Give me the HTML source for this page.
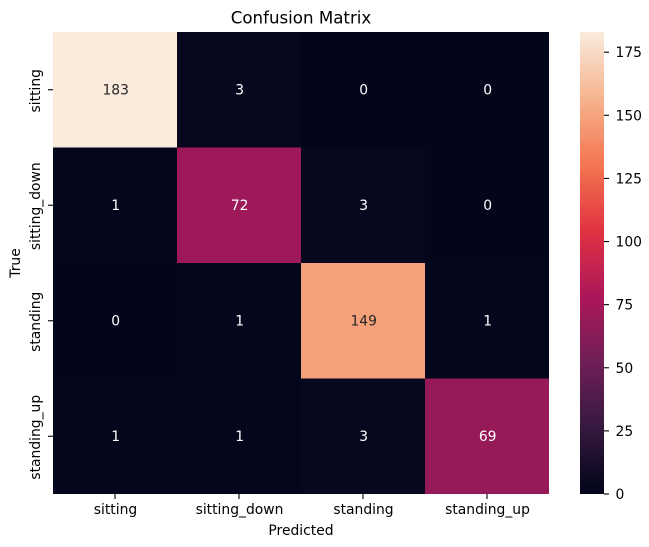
<!DOCTYPE html>
<html>
<head>
<meta charset="utf-8">
<title>Confusion Matrix</title>
<style>
html,body{margin:0;padding:0;background:#fff;}
svg{display:block;}
text{font-family:"DejaVu Sans","Liberation Sans",sans-serif;font-size:13.89px;fill:#000;}
</style>
</head>
<body>
<svg id="chart" width="649" height="547" viewBox="0 0 649 547" xmlns="http://www.w3.org/2000/svg">
  <defs>
    <linearGradient id="rocket" x1="0" y1="1" x2="0" y2="0"></linearGradient>
  </defs>
  <text x="301" y="23.5" text-anchor="middle" style="font-size:16.67px">Confusion Matrix</text>
  <text x="301" y="535" text-anchor="middle">Predicted</text>
  <text transform="translate(20,263) rotate(-90)" text-anchor="middle">True</text>
  <g id="cells"></g>
  <g id="annots"></g>
  <g id="xticks"></g>
  <g id="yticks"></g>
  <rect x="580" y="32" width="24" height="462" fill="url(#rocket)"></rect>
  <g id="cticks"></g>
</svg>
<script>
var categories = ['sitting', 'sitting_down', 'standing', 'standing_up'];
var row0 = [183, 3, 0, 0];
var row1 = [1, 72, 3, 0];
var row2 = [0, 1, 149, 1];
var row3 = [1, 1, 3, 69];
var matrix = [row0, row1, row2, row3];
var colorbarTicks = [0, 25, 50, 75, 100, 125, 150, 175];

var NS = 'http://www.w3.org/2000/svg';
var plotLeft = 53, plotRight = 549, plotTop = 32, plotBottom = 494;
var barLeft = 580, barRight = 604;
var rocketStops = [
  [0, 3, 5, 26], [0.0157, 7, 7, 29], [0.143, 53, 25, 62], [0.286, 112, 31, 87],
  [0.429, 173, 23, 89], [0.571, 225, 51, 66], [0.714, 243, 118, 81],
  [0.857, 246, 180, 143], [1, 250, 235, 221]
];

function all() { return [].concat.apply([], matrix); }
var vmin = Math.min.apply(null, all());
var vmax = Math.max.apply(null, all());

function xBand(i) { return plotLeft + (plotRight - plotLeft) * i / categories.length; }
function yBand(i) { return plotTop + (plotBottom - plotTop) * i / matrix.length; }
function norm(v) { return vmax === vmin ? 0 : (v - vmin) / (vmax - vmin); }
function cbY(v) { return plotBottom - norm(v) * (plotBottom - plotTop); }
function rocketRGB(t) {
  t = Math.max(0, Math.min(1, t));
  for (var i = 1; i < rocketStops.length; i++) {
    if (t <= rocketStops[i][0]) {
      var a = rocketStops[i - 1], b = rocketStops[i];
      var f = (t - a[0]) / (b[0] - a[0]);
      return [a[1] + (b[1] - a[1]) * f, a[2] + (b[2] - a[2]) * f, a[3] + (b[3] - a[3]) * f];
    }
  }
  return rocketStops[rocketStops.length - 1].slice(1);
}
function css(c) { return 'rgb(' + Math.round(c[0]) + ',' + Math.round(c[1]) + ',' + Math.round(c[2]) + ')'; }
function lum(c) {
  var l = c.map(function (v) {
    v = v / 255;
    return v <= 0.03928 ? v / 12.92 : Math.pow((v + 0.055) / 1.055, 2.4);
  });
  return 0.2126 * l[0] + 0.7152 * l[1] + 0.0722 * l[2];
}
function make(tag, parentId) {
  var el = document.createElementNS(NS, tag);
  document.getElementById(parentId).appendChild(el);
  return el;
}

rocketStops.forEach(function (s) {
  var st = make('stop', 'rocket');
  st.setAttribute('offset', s[0]);
  st.setAttribute('stop-color', css(s.slice(1)));
});

matrix.forEach(function (row, r) {
  row.forEach(function (v, c) {
    var col = rocketRGB(norm(v));
    var x0 = xBand(c), x1 = xBand(c + 1), y0 = yBand(r), y1 = yBand(r + 1);
    var rect = make('rect', 'cells');
    
    
    rect.setAttribute('x', x0);
    rect.setAttribute('y', y0);
    rect.setAttribute('width', x1 - x0);
    rect.setAttribute('height', y1 - y0);
    rect.setAttribute('fill', css(col));
    rect.setAttribute('shape-rendering', 'crispEdges');
    var t = make('text', 'annots');
    
    
    t.setAttribute('x', (x0 + x1) / 2 + 0.7);
    t.setAttribute('y', (y0 + y1) / 2 + 4.6);
    t.setAttribute('text-anchor', 'middle');
    t.style.fill = lum(col) > 0.408 ? '#262626' : '#ffffff';
    t.textContent = v;
  });
});

categories.forEach(function (name, i) {
  var cx = (xBand(i) + xBand(i + 1)) / 2;
  var tick = make('line', 'xticks');
  
  
  tick.setAttribute('x1', cx);
  tick.setAttribute('x2', cx);
  tick.setAttribute('y1', plotBottom);
  tick.setAttribute('y2', plotBottom + 5);
  tick.setAttribute('stroke', '#000');
  tick.setAttribute('stroke-width', '1.1');
  var label = make('text', 'xticks');
  
  
  label.setAttribute('x', cx + 0.5);
  label.setAttribute('y', 514);
  label.setAttribute('text-anchor', 'middle');
  label.textContent = name;

  var cy = (yBand(i) + yBand(i + 1)) / 2;
  var ytick = make('line', 'yticks');
  
  
  ytick.setAttribute('x1', plotLeft - 5);
  ytick.setAttribute('x2', plotLeft);
  ytick.setAttribute('y1', cy);
  ytick.setAttribute('y2', cy);
  ytick.setAttribute('stroke', '#000');
  ytick.setAttribute('stroke-width', '1.1');
  var ylabel = make('text', 'yticks');
  
  
  ylabel.setAttribute('transform', 'translate(40,' + (cy + 1) + ') rotate(-90)');
  ylabel.setAttribute('text-anchor', 'middle');
  ylabel.textContent = name;
});

colorbarTicks.forEach(function (v) {
  var y = cbY(v);
  var tick = make('line', 'cticks');
  
  
  tick.setAttribute('x1', barRight);
  tick.setAttribute('x2', barRight + 5);
  tick.setAttribute('y1', y);
  tick.setAttribute('y2', y);
  tick.setAttribute('stroke', '#000');
  tick.setAttribute('stroke-width', '1.1');
  var label = make('text', 'cticks');
  
  
  label.setAttribute('x', barRight + 11.5);
  label.setAttribute('y', y + 5);
  label.textContent = v;
});
</script>
</body>
</html>
